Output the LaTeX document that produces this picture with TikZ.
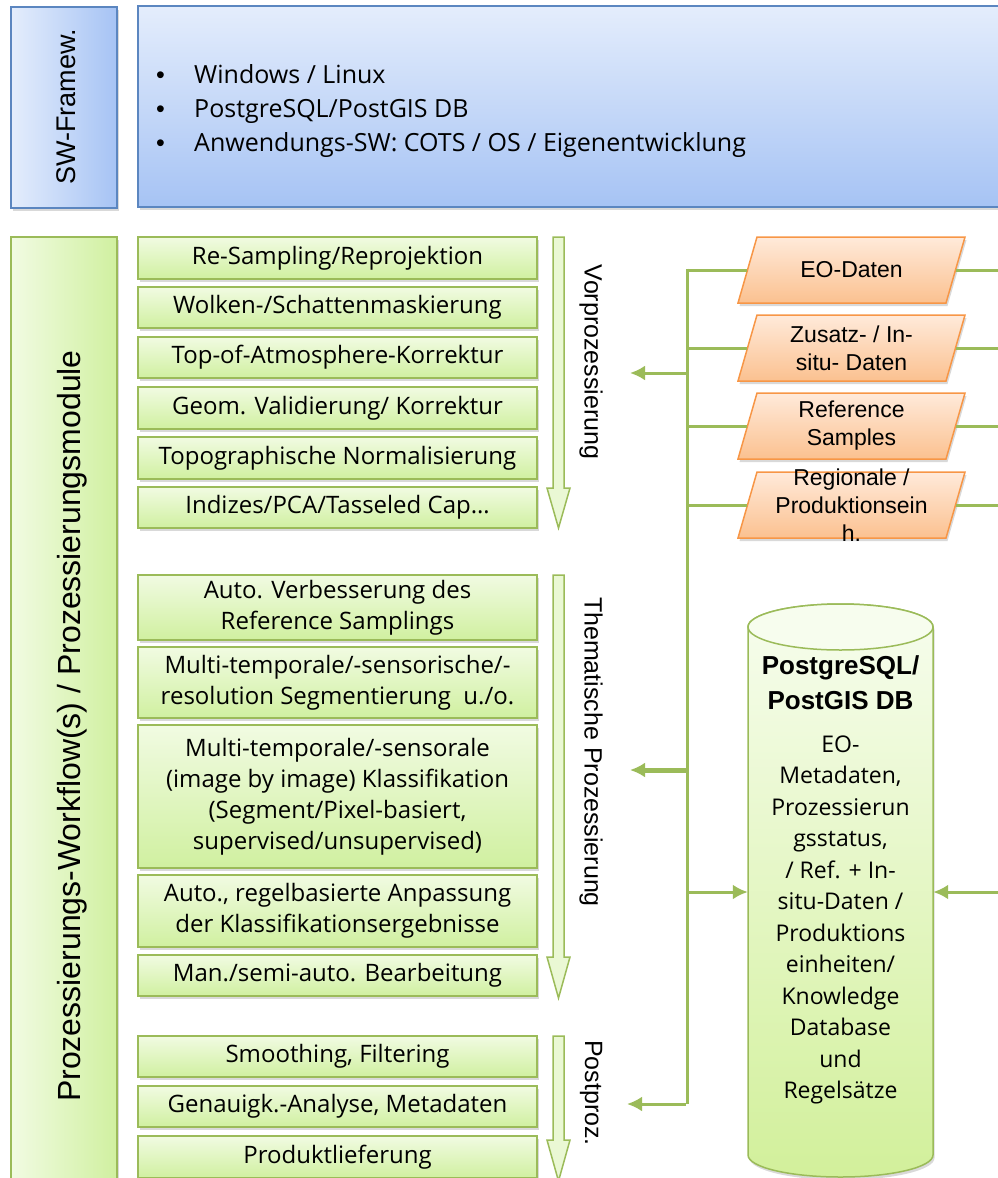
\documentclass[tikz,border=0pt]{standalone}
\usepackage{fontspec}
\setmainfont{Liberation Sans}
\newfontfamily\osans{Open Sans}
\newfontfamily\lsans{Liberation Sans}
\usetikzlibrary{shapes.geometric,shadows,arrows.meta}
\definecolor{gline}{HTML}{9BBB59}
\definecolor{boxtop}{HTML}{F1FBE2}
\definecolor{boxbot}{HTML}{D0F0A0}
\definecolor{bluetop}{HTML}{E4EDFC}
\definecolor{bluebot}{HTML}{A6C3F4}
\definecolor{blueline}{HTML}{5B86C0}
\definecolor{ortop}{HTML}{FFEADA}
\definecolor{orbot}{HTML}{FBC190}
\definecolor{orline}{HTML}{F79646}
\definecolor{arrfill}{HTML}{EAF8D4}
\definecolor{cyltop}{HTML}{F7FDEE}
\definecolor{cylbot}{HTML}{D2F09B}
\newcommand\bul{\makebox[38pt][l]{\lsans\textbullet}}
\begin{document}
\begin{tikzpicture}[x=1pt,y=-1pt,
  shad/.style={drop shadow={opacity=0.3,shadow xshift=1.5pt,shadow yshift=-3pt}},
  stepbox/.style={draw=gline, line width=1.5pt, top color=boxtop, bottom color=boxbot,
    minimum width=399pt, inner sep=0pt, align=center, font=\osans\fontsize{24}{31}\selectfont, shad},
  lbl/.style={inner sep=0pt, font=\fontsize{25}{30}\selectfont},
  para/.style={minimum width=208pt, minimum height=66pt, inner sep=0pt, align=center,
    font=\fontsize{23}{28}\selectfont},
  parafill/.style={draw=orline, line width=1.5pt, top color=ortop, bottom color=orbot, shad},
  blockarrow/.style={draw=gline, line width=1.5pt, fill=arrfill},
  conn/.style={draw=gline, line width=3pt},
  tip/.style={-{Latex[length=15pt,width=15pt]}}
]
\useasboundingbox (0,0) rectangle (998,1178);
\clip (0,0) rectangle (998,1178);

% ---- top section
\node[draw=blueline, line width=1.5pt, left color=bluetop, right color=bluebot,
      minimum width=106pt, minimum height=201pt, inner sep=0pt, shad] (swbox) at (64,107.5) {};
\node[lbl, rotate=90, font=\fontsize{27}{30}\selectfont] (swlab) at (66,107) {SW-Framew.};
\node[draw=blueline, line width=1.5pt, top color=bluetop, bottom color=bluebot,
      minimum width=880pt, minimum height=201pt, inner sep=0pt, shad] (fwbox) at (578,106.5) {};
\node[anchor=west, align=left, inner sep=0pt, font=\osans\fontsize{25}{34}\selectfont] (fwtext) at (156,111)
  {\bul Windows / Linux\\
   \bul PostgreSQL/PostGIS DB\\
   \bul Anwendungs-SW: COTS / OS / Eigenentwicklung};

% ---- left tall box
\node[draw=gline, line width=1.5pt, left color=boxtop, right color=boxbot,
      minimum width=106pt, minimum height=960pt, inner sep=0pt, shad] (wfbox) at (64,717) {};
\node[lbl, rotate=90, font=\fontsize{32}{36}\selectfont] (wflab) at (72,726) {Prozessierungs-Workflow(s) / Prozessierungsmodule};

% ---- Vorprozessierung
\node[stepbox, minimum height=42pt] (v1) at (337.5,258) {Re-Sampling/Reprojektion};
\node[stepbox, minimum height=41pt] (v2) at (337.5,307.5) {Wolken-/Schattenmaskierung};
\node[stepbox, minimum height=41pt] (v3) at (337.5,357.5) {Top-of-Atmosphere-Korrektur};
\node[stepbox, minimum height=42pt] (v4) at (337.5,408) {Geom. Validierung/ Korrektur};
\node[stepbox, minimum height=42pt] (v5) at (337.5,458) {Topographische Normalisierung};
\node[stepbox, minimum height=41pt] (v6) at (337.5,507.5) {Indizes/PCA/Tasseled Cap…};
\draw[blockarrow] (553,237) -- (564,237) -- (564,488) -- (570,488) -- (558.5,528) -- (547,488) -- (553,488) -- cycle;
\node[lbl, rotate=-90] (vlab) at (591,362) {Vorprozessierung};

% ---- Thematische Prozessierung
\node[stepbox, minimum height=65pt] (t1) at (337.5,607.5) {Auto. Verbesserung des\\Reference Samplings};
\node[stepbox, minimum height=71pt] (t2) at (337.5,682.5) {Multi-temporale/-sensorische/-\\resolution Segmentierung\ \ u./o.};
\node[stepbox, minimum height=143pt] (t3) at (337.5,796.5) {Multi-temporale/-sensorale\\(image by image) Klassifikation\\(Segment/Pixel-basiert,\\supervised/unsupervised)};
\node[stepbox, minimum height=72pt] (t4) at (337.5,911) {Auto., regelbasierte Anpassung\\der Klassifikationsergebnisse};
\node[stepbox, minimum height=41pt] (t5) at (337.5,975.5) {Man./semi-auto. Bearbeitung};
\draw[blockarrow] (553,575) -- (564,575) -- (564,957) -- (570,957) -- (558.5,998) -- (547,957) -- (553,957) -- cycle;
\node[lbl, rotate=-90] (tlab) at (591,752) {Thematische Prozessierung};

% ---- Postprozessierung
\node[stepbox, minimum height=41pt] (p1) at (337.5,1056.5) {Smoothing, Filtering};
\node[stepbox, minimum height=41pt] (p2) at (337.5,1106.5) {Genauigk.-Analyse, Metadaten};
\node[stepbox, minimum height=42pt] (p3) at (337.5,1157) {Produktlieferung};
\draw[blockarrow] (553,1036) -- (564,1036) -- (564,1140) -- (570,1140) -- (558.5,1181) -- (547,1140) -- (553,1140) -- cycle;
\node[lbl, rotate=-90] (plab) at (591,1093) {Postproz.};

% ---- input data parallelograms
\path[parafill] (738,303) -- (946,303) -- (965,237) -- (757,237) -- cycle;
\node[para] (eo) at (851.5,270) {EO-Daten};
\path[parafill] (738,381) -- (946,381) -- (965,315) -- (757,315) -- cycle;
\node[para] (zus) at (851.5,348) {Zusatz- / In-\\situ- Daten};
\path[parafill] (738,459) -- (946,459) -- (965,393) -- (757,393) -- cycle;
\node[para] (ref) at (851.5,426) {Reference\\Samples};
\path[parafill] (738,538) -- (946,538) -- (965,472) -- (757,472) -- cycle;
\node[para] (reg) at (851.5,505) {Regionale /\\Produktionsein\\h.};

% ---- database cylinder (drawn directly)
\path[draw=gline, line width=1.5pt, top color=cyltop, bottom color=cylbot, shad]
  (748,627) -- (748,1155) arc (180:0:92.5 and 22) -- (933,627) arc (0:-180:92.5 and 23) -- cycle;
\draw[gline, line width=1.5pt, fill=cyltop] (840.5,627) ellipse (92.5 and 23);
\node[minimum width=185pt, minimum height=528pt, inner sep=0pt] (db) at (840.5,891) {};
\node[align=center, inner sep=0pt, font=\fontsize{26}{35}\selectfont\bfseries] (dbtitle) at (840.5,683)
  {PostgreSQL/\\PostGIS DB};
\node[align=center, inner sep=0pt, font=\osans\fontsize{23}{31.5}\selectfont] (dbbody) at (840.5,920)
  {EO-\\Metadaten,\\Prozessierun\\gsstatus,\\/ Ref. + In-\\situ-Daten /\\Produktions\\einheiten/\\Knowledge\\Database\\und\\Regelsätze};

% ---- connectors
\coordinate (bTop) at (687,270);
\coordinate (bV) at (687,373);
\coordinate (bT) at (687,770);
\coordinate (bDB) at (687,892);
\coordinate (bBot) at (687,1104);
\coordinate (vTip) at (630,373);
\coordinate (tTip) at (630,770);
\coordinate (pTip) at (627,1104);
\coordinate (rDB) at (1010,892);
\coordinate (rEdge) at (1010,0);

\draw[conn] (eo.west) -- (eo.west -| bTop);
\draw[conn] (zus.west) -- (zus.west -| bTop);
\draw[conn] (ref.west) -- (ref.west -| bTop);
\draw[conn] (reg.west) -- (reg.west -| bTop);
\draw[conn] (eo.east) -- (eo.east -| rEdge);
\draw[conn] (zus.east) -- (zus.east -| rEdge);
\draw[conn] (ref.east) -- (ref.east -| rEdge);
\draw[conn] (reg.east) -- (reg.east -| rEdge);
\draw[conn] ([yshift=1.5pt]bTop) -- (bBot);
\draw[conn, tip] (bV) -- (vTip);
\draw[conn, line width=5pt, tip] (bT) -- (tTip);
\draw[conn, tip] ([xshift=-1.5pt]bBot) -- (pTip);
\draw[conn, tip] (bDB) -- (bDB -| db.west);
\draw[conn, tip] (rDB) -- (rDB -| db.east);
\end{tikzpicture}
\end{document}
